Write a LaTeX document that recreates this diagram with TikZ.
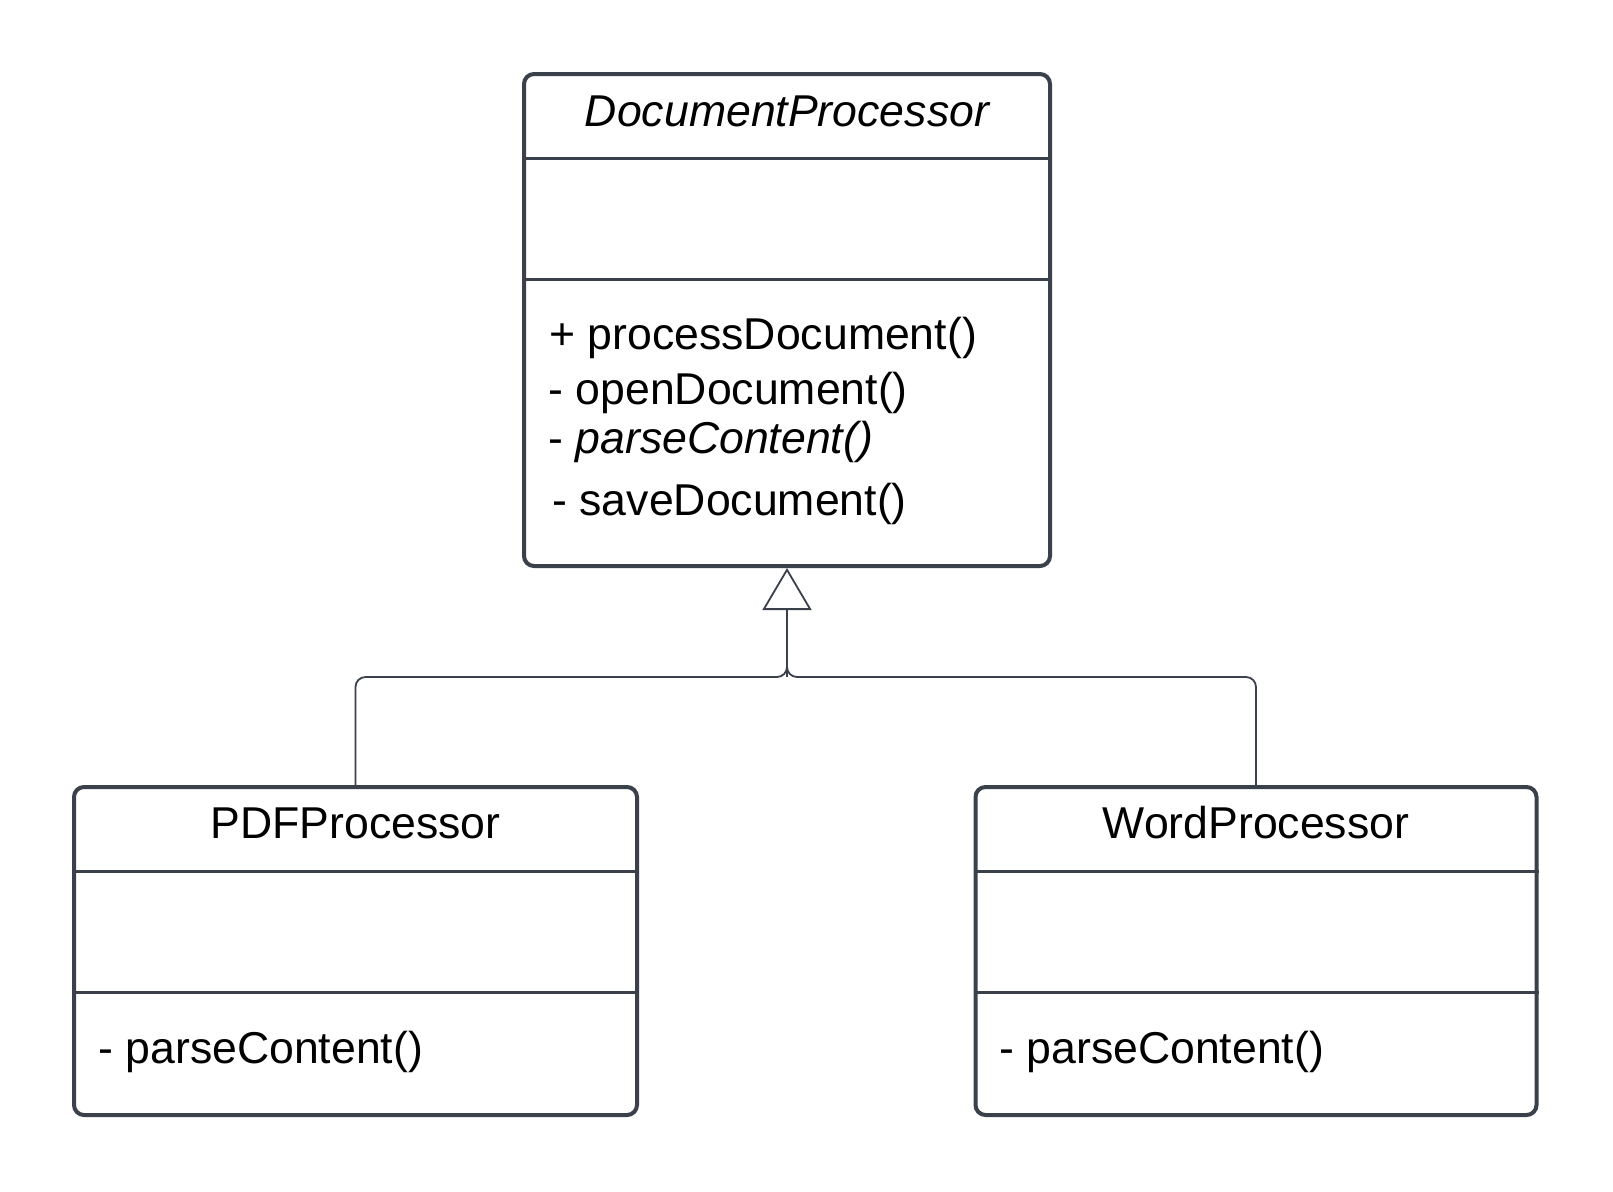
\documentclass[tikz,border=0pt]{standalone}
\usepackage{fontspec}
\setmainfont{Liberation Sans}
\usetikzlibrary{arrows.meta, positioning}
\definecolor{umlgray}{HTML}{3A414A}
\tikzstyle{classbox} = [rectangle, rounded corners=5pt, draw=umlgray, line width=2pt, fill=white]
\tikzstyle{divider} = [draw=umlgray, line width=1.5pt]
\tikzstyle{classname} = [font=\fontsize{22.3}{27}\selectfont, inner sep=0pt, anchor=base]
\tikzstyle{member} = [font=\fontsize{22.3}{27}\selectfont, inner sep=0pt, anchor=base west]
\tikzstyle{inherit} = [draw=umlgray, line width=0.9pt, rounded corners=5pt]

\begin{document}
\begin{tikzpicture}[x=0.5pt, y=-0.5pt]

\fill[white] (0,0) rectangle (1613,1191);
\useasboundingbox (0,0) rectangle (1613,1191);

% Abstract class (DocumentProcessor)
\node (dp) [classbox, minimum width=263pt, minimum height=246pt] at (787,320) {};
\draw [divider] (dp.west |- 0,158) -- (dp.east |- 0,158);
\draw [divider] (dp.west |- 0,279) -- (dp.east |- 0,279);
\node (dptitle) [classname] at (dp.north |- 0,126) {\itshape DocumentProcessor};
\node (dpm1) [member] at (549,349) {+ processDocument()};
\node (dpm2) [member] at (548,404) {- openDocument()};
\node (dpm3) [member] at (548,453) {- \textit{parseContent()}};
\node (dpm4) [member] at (552,515) {- saveDocument()};

% Subclasses
\node (pdf) [classbox, minimum width=281.5pt, minimum height=164pt] at (355.5,951) {};
\draw [divider] (pdf.west |- 0,871) -- (pdf.east |- 0,871);
\draw [divider] (pdf.west |- 0,992) -- (pdf.east |- 0,992);
\node (pdftitle) [classname] at (pdf.north |- 0,838) {PDFProcessor};
\node (pdfm1) [member] at (98,1063) {- parseContent()};

\node (word) [classbox, minimum width=280.5pt, minimum height=164pt] at (1256,951) {};
\draw [divider] (word.west |- 0,871) -- (word.east |- 0,871);
\draw [divider] (word.west |- 0,992) -- (word.east |- 0,992);
\node (wordtitle) [classname] at (word.north |- 0,838) {WordProcessor};
\node (wordm1) [member] at (999,1063) {- parseContent()};

% Generalization
\coordinate (bus) at (dp.south |- 0,677);
\draw [inherit] (pdf.north) |- (bus) -- ++(0,-20);
\draw [inherit] (word.north) |- (bus) -- ++(0,-20);
\draw [inherit, -{Triangle[open, length=21pt, width=24.5pt]}] (bus) -- (dp.south);

\end{tikzpicture}
\end{document}
